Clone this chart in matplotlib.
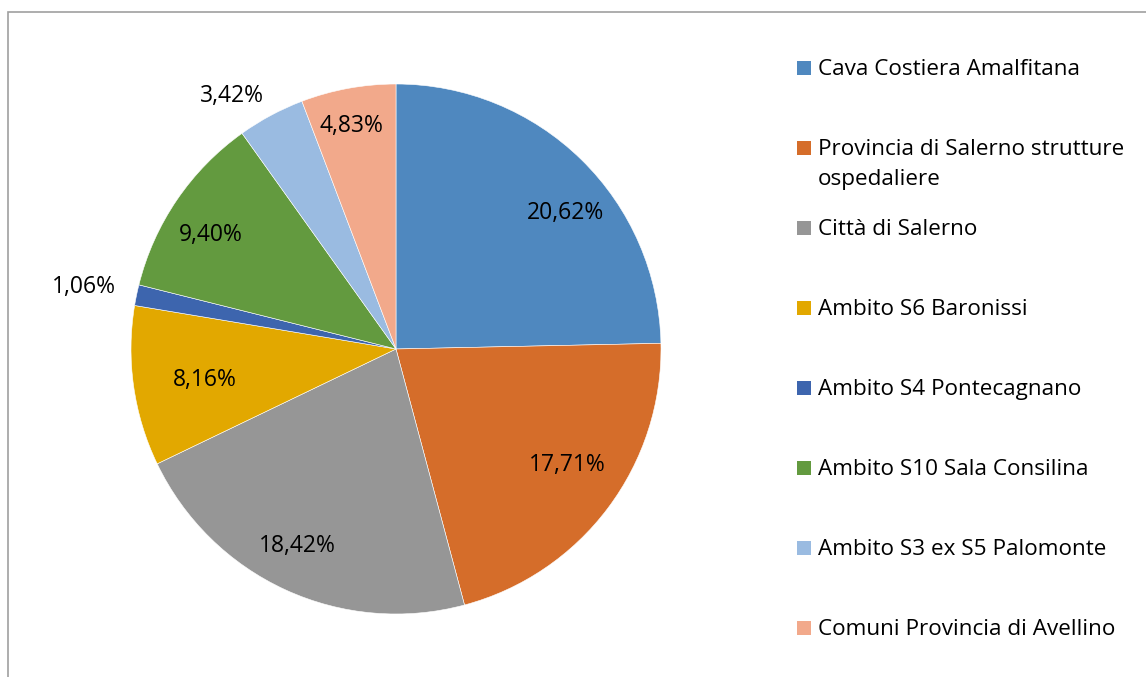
import numpy as np
import matplotlib
matplotlib.use('Agg')
import matplotlib.pyplot as plt
from matplotlib.patches import Rectangle

# quote per ambito (valori in percentuale, la torta li normalizza)
categories = ['Cava Costiera Amalfitana',
              'Provincia di Salerno strutture\nospedaliere',
              'Città di Salerno',
              'Ambito S6 Baronissi',
              'Ambito S4 Pontecagnano',
              'Ambito S10 Sala Consilina',
              'Ambito S3 ex S5 Palomonte',
              'Comuni Provincia di Avellino']
values = [20.62, 17.71, 18.42, 8.16, 1.06, 9.40, 3.42, 4.83]

colors = ['#4F88BF', '#D56D2A', '#969696', '#E2A800',
          '#3D65AE', '#639A3F', '#9ABBE1', '#F2A98B']
# posizione delle etichette: distanza dal centro (in raggi) e scarto angolare
label_dist = [0.82, 0.78, 0.83, 0.73, 1.20, 0.82, 1.14, 0.86]
label_shift = [-6.9, 2.9, -1.9, 1.1, 0.4, 2.6, 4.8, 1.0]

W, H = 1146, 677
plt.rcParams['font.family'] = ['Open Sans', 'DejaVu Sans']
fig = plt.figure(figsize=(W / 100, H / 100), dpi=100)

# cornice del grafico
fig.patches.append(Rectangle((8 / W, -0.05), 2, (H - 12) / H + 0.05,
                             transform=fig.transFigure, fill=False,
                             edgecolor='#A0A0A0', linewidth=1.2))

cx, cy, r = 396, 349, 265
ax = fig.add_axes([(cx - r) / W, (H - cy - r) / H, 2 * r / W, 2 * r / H])
wedges, _ = ax.pie(values, colors=colors, startangle=90, counterclock=False,
                   wedgeprops=dict(edgecolor='white', linewidth=0.4))
ax.set_xlim(-1, 1)
ax.set_ylim(-1, 1)
ax.set_aspect('equal')
ax.axis('off')

for w, v, d, s in zip(wedges, values, label_dist, label_shift):
    ang = np.deg2rad((w.theta1 + w.theta2) / 2 + s)
    ax.text(d * np.cos(ang), d * np.sin(ang), f'{v:.2f}%'.replace('.', ','),
            ha='center', va='center', fontsize=16.5, color='black')

# legenda
y0, step = 68, 80
for i, (lab, col) in enumerate(zip(categories, colors)):
    y = y0 + i * step
    fig.patches.append(Rectangle((797 / W, (H - y - 7) / H), 14 / W, 14 / H,
                                 transform=fig.transFigure,
                                 facecolor=col, edgecolor='none'))
    fig.text(818 / W, (H - y + 9) / H, lab, ha='left', va='top',
             fontsize=16.2, linespacing=1.55)

fig.savefig('out.png', dpi=100, facecolor='white')
